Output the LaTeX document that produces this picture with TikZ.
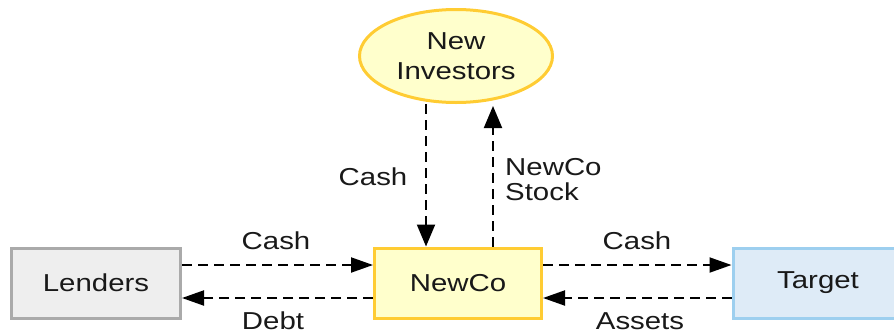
\documentclass[tikz,border=0pt]{standalone}
\usepackage{fontspec}
\setmainfont{Liberation Sans}[FakeStretch=1.2]
\usetikzlibrary{arrows.meta,shapes.geometric}
\definecolor{gold}{HTML}{FFCC33}
\definecolor{paleyellow}{HTML}{FFFFCC}
\definecolor{greyfill}{HTML}{EEEEEE}
\definecolor{greyline}{HTML}{AAAAAA}
\definecolor{bluefill}{HTML}{DEEBF7}
\definecolor{blueline}{HTML}{9DCFEF}
\begin{document}
\begin{tikzpicture}[x=1pt,y=-1pt,
  txt/.style={font=\fontsize{24.5}{30}\selectfont, text=black!90},
  boxnode/.style={txt, draw, line width=3pt, rectangle, inner sep=0pt, minimum height=70pt},
  arr/.style={line width=2pt, dash pattern=on 10pt off 6pt, -{Triangle[length=22pt,width=15pt]}},
  varr/.style={line width=2pt, dash pattern=on 10pt off 6pt, -{Triangle[length=22pt,width=18pt]}},
  lbl/.style={txt, anchor=base, inner sep=0pt, text depth=0pt}]
\useasboundingbox (0,0) rectangle (894,333);
\clip (0,0) rectangle (894,333);
\node[boxnode, draw=greyline, fill=greyfill, minimum width=169pt] (lenders) at (96,283) {Lenders};
\node[boxnode, draw=gold, fill=paleyellow, minimum width=167pt] (newco) at (458,283) {NewCo};
\node[boxnode, draw=blueline, fill=bluefill, minimum width=170pt] (target) at (818,283) {Target};
\node[txt, ellipse, draw=gold, fill=paleyellow, line width=3pt, inner sep=0pt, minimum width=193pt, minimum height=93pt, align=center] (inv) at (456,56) {New\\Investors};
\coordinate (xa) at (426,0);
\coordinate (xb) at (493,0);
\coordinate (ya) at (0,265);
\coordinate (yb) at (0,298);
\draw[varr] (inv.south -| xa) -- (newco.north -| xa);
\draw[varr] (newco.north -| xb) -- ([yshift=-2pt]inv.south -| xb);
\draw[arr] (lenders.east |- ya) -- (newco.west |- ya);
\draw[arr] (newco.west |- yb) -- (lenders.east |- yb);
\draw[arr] (newco.east |- ya) -- (target.west |- ya);
\draw[arr] (target.west |- yb) -- (newco.east |- yb);
\node[lbl] (l1) at (276,249) {Cash};
\node[lbl] (l2) at (273,329) {Debt};
\node[lbl] (l3) at (637,249) {Cash};
\node[lbl] (l4) at (640,329) {Assets};
\node[lbl] (l5) at (373,185) {Cash};
\node[lbl, anchor=base west] (l6) at (505,175) {NewCo};
\node[lbl, anchor=base west] (l7) at (505,200) {Stock};
\end{tikzpicture}
\end{document}
